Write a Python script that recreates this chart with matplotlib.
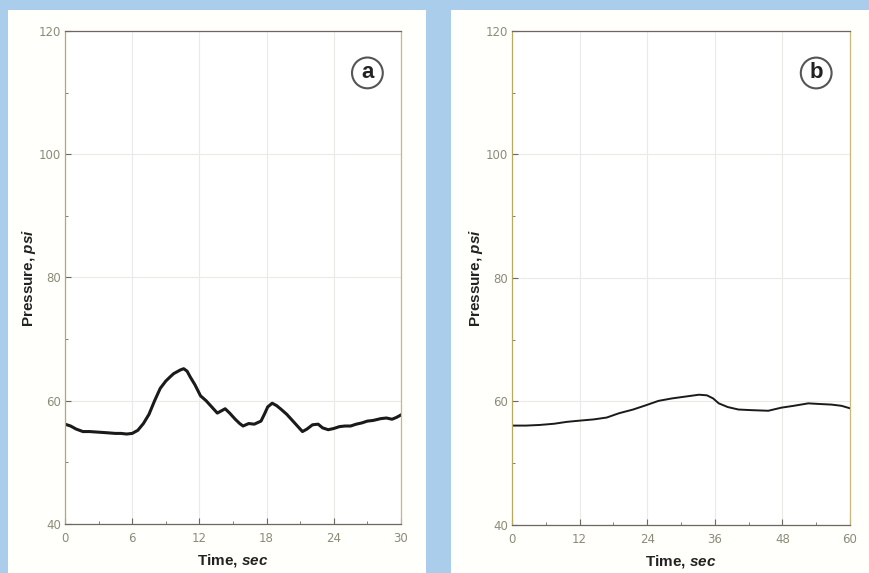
import matplotlib
matplotlib.use("Agg")
import matplotlib.pyplot as plt
from matplotlib.patches import Rectangle
from matplotlib.ticker import MultipleLocator

plt.rcParams["mathtext.fontset"] = "custom"
plt.rcParams["mathtext.it"] = "Liberation Sans:italic:bold"
plt.rcParams["mathtext.rm"] = "Liberation Sans:bold"

# Panel a data (time in sec, pressure in psi)
time_a = [0, 0.5, 1.0, 1.6, 2.2, 3.0, 3.8, 4.5, 5.0, 5.5, 6.0, 6.5, 7.0, 7.5, 8.0, 8.5,
          9.0, 9.4, 9.7, 10.0, 10.3, 10.6, 10.9, 11.2, 11.6, 12.1, 12.6, 13.1, 13.6,
          14.0, 14.3, 14.7, 15.2, 15.6, 15.9, 16.4, 16.9, 17.5, 17.8, 18.1, 18.5,
          18.9, 19.3, 19.8, 20.3, 20.8, 21.2, 21.6, 22.1, 22.6, 23.0, 23.5, 24.0,
          24.5, 25.0, 25.5, 26.0, 26.5, 27.0, 27.5, 28.2, 28.7, 29.2, 29.6, 30.0]
pres_a = [56.2, 55.9, 55.4, 55.0, 55.0, 54.9, 54.8, 54.7, 54.7, 54.6, 54.7, 55.2, 56.3, 57.8, 60.0, 62.0,
          63.2, 63.9, 64.4, 64.7, 65.0, 65.2, 64.8, 63.8, 62.6, 60.8, 60.0, 59.0, 58.0,
          58.4, 58.7, 58.0, 57.0, 56.3, 55.9, 56.3, 56.2, 56.7, 57.8, 59.0, 59.6,
          59.2, 58.6, 57.8, 56.8, 55.8, 55.0, 55.4, 56.1, 56.2, 55.6, 55.3, 55.5,
          55.8, 55.9, 55.9, 56.2, 56.4, 56.7, 56.8, 57.1, 57.2, 57.0, 57.3, 57.7]

# Panel b data
time_b = [0, 2.5, 4.9, 7.5, 9.7, 12.0, 14.5, 16.8, 19.0, 21.5, 23.8, 26.0, 28.4, 30.8,
          33.2, 34.6, 35.7, 36.7, 38.3, 40.2, 42.5, 45.5, 47.8, 50.0, 52.6, 54.5, 56.7, 58.5, 60.0]
pres_b = [56.1, 56.1, 56.2, 56.4, 56.7, 56.9, 57.1, 57.4, 58.1, 58.7, 59.4, 60.1, 60.5, 60.8,
          61.1, 61.0, 60.5, 59.7, 59.1, 58.7, 58.6, 58.5, 59.0, 59.3, 59.7, 59.6, 59.5, 59.3, 58.9]

xticks_a = [0, 6, 12, 18, 24, 30]
xticks_b = [0, 12, 24, 36, 48, 60]
yticks = [40, 60, 80, 100, 120]
panel_labels = ["a", "b"]

W, H = 869, 573
fig = plt.figure(figsize=(W / 100, H / 100), dpi=100)
fig.patch.set_facecolor("#a9cdea")

# background card panels in a separate axes behind everything
bg = fig.add_axes([0, 0, 1, 1], zorder=-10)
bg.set_xlim(0, W)
bg.set_ylim(H, 0)
bg.axis("off")
bg.add_patch(Rectangle((8, 10), 418, H - 10, facecolor="#fffffc", edgecolor="none"))
bg.add_patch(Rectangle((451, 10), W - 451, H - 10, facecolor="#fffffc", edgecolor="none"))

def make_axes(x0, x1, y_top, y_bot):
    return fig.add_axes([x0 / W, 1 - y_bot / H, (x1 - x0) / W, (y_bot - y_top) / H])

ax_a = make_axes(65, 401, 31, 524)
ax_b = make_axes(512, 850, 31, 525)

spine_col = "#6e6660"
tick_col = "#8c8a78"

for ax, t, p, xt, lab, xmax, xminor, lw in [
        (ax_a, time_a, pres_a, xticks_a, panel_labels[0], 30, 3, 2.2),
        (ax_b, time_b, pres_b, xticks_b, panel_labels[1], 60, 6, 1.4)]:
    ax.set_facecolor("white")
    ax.plot(t, p, color="#1a1a1a", lw=lw, solid_joinstyle="round")
    ax.set_xlim(0, xmax)
    ax.set_ylim(40, 120)
    ax.set_xticks(xt)
    ax.set_yticks(yticks)
    ax.xaxis.set_minor_locator(MultipleLocator(xminor))
    ax.yaxis.set_minor_locator(MultipleLocator(10))
    ax.grid(True, which="major", color="#ebebe6", lw=0.8)
    ax.set_axisbelow(True)
    for s in ax.spines.values():
        s.set_color(spine_col)
        s.set_linewidth(0.9)
    ax.spines["left"].set_color("#b8a860")
    ax.spines["right"].set_color("#c8b880")
    ax.tick_params(which="both", direction="in", color=spine_col, labelcolor=tick_col,
                   labelsize=8.5)
    ax.tick_params(axis="x", which="major", pad=6)
    ax.tick_params(axis="y", which="major", pad=3)
    ax.tick_params(which="major", length=4)
    ax.tick_params(which="minor", length=2)
    ax.set_xlabel("Time, $\\mathit{sec}$", fontsize=11, fontweight="bold", color="#222222",
                  family="Liberation Sans", labelpad=5)
    ax.set_ylabel("Pressure, $\\mathit{psi}$", fontsize=11, fontweight="bold", color="#222222",
                  family="Liberation Sans", labelpad=0)
    ax.text(0.9, 0.915, lab, transform=ax.transAxes, ha="center", va="center",
            fontsize=16, fontweight="bold", color="#222222", family="Liberation Sans", zorder=6,
            bbox=dict(boxstyle="circle,pad=0.22", facecolor="white", edgecolor="#555555", lw=1.5))

fig.savefig("out.png", dpi=100, facecolor=fig.get_facecolor())
